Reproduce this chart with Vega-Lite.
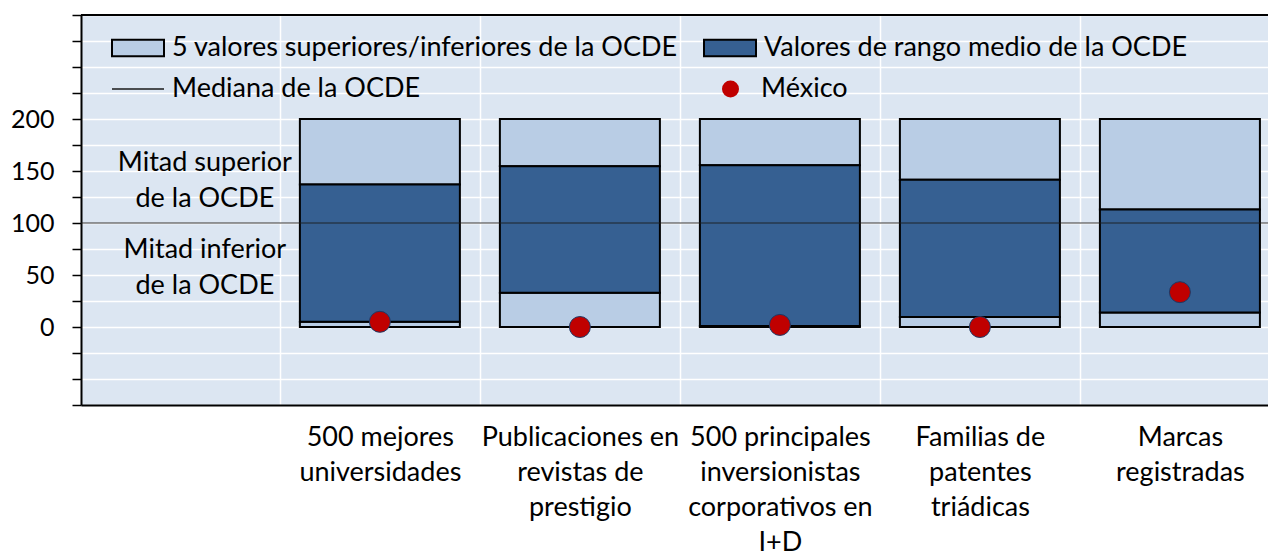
{
  "$schema": "https://vega.github.io/schema/vega-lite/v6.json",
  "width": 1187,
  "height": 390,
  "autosize": {"type": "none"},
  "padding": {"left": 81, "top": 15, "right": 0, "bottom": 149},
  "background": "white",
  "config": {
    "view": {"fill": "#DCE6F2", "stroke": null},
    "font": "Lato",
    "legend": {"labelFont": "Lato", "labelFontSize": 27, "labelColor": "black", "labelLimit": 1000, "padding": 0, "title": null}
  },
  "datasets": {
    "barras": [
      {"indicador": "500 mejores universidades", "parte": "5 valores superiores/inferiores de la OCDE", "desde": 0, "hasta": 5},
      {"indicador": "500 mejores universidades", "parte": "5 valores superiores/inferiores de la OCDE", "desde": 137, "hasta": 200},
      {"indicador": "500 mejores universidades", "parte": "Valores de rango medio de la OCDE", "desde": 5, "hasta": 137},
      {"indicador": "Publicaciones en revistas de prestigio", "parte": "5 valores superiores/inferiores de la OCDE", "desde": 0, "hasta": 33},
      {"indicador": "Publicaciones en revistas de prestigio", "parte": "5 valores superiores/inferiores de la OCDE", "desde": 154.5, "hasta": 200},
      {"indicador": "Publicaciones en revistas de prestigio", "parte": "Valores de rango medio de la OCDE", "desde": 33, "hasta": 154.5},
      {"indicador": "500 principales inversionistas corporativos en I+D", "parte": "5 valores superiores/inferiores de la OCDE", "desde": 0, "hasta": 1},
      {"indicador": "500 principales inversionistas corporativos en I+D", "parte": "5 valores superiores/inferiores de la OCDE", "desde": 155.5, "hasta": 200},
      {"indicador": "500 principales inversionistas corporativos en I+D", "parte": "Valores de rango medio de la OCDE", "desde": 1, "hasta": 155.5},
      {"indicador": "Familias de patentes triádicas", "parte": "5 valores superiores/inferiores de la OCDE", "desde": 0, "hasta": 9.5},
      {"indicador": "Familias de patentes triádicas", "parte": "5 valores superiores/inferiores de la OCDE", "desde": 141.5, "hasta": 200},
      {"indicador": "Familias de patentes triádicas", "parte": "Valores de rango medio de la OCDE", "desde": 9.5, "hasta": 141.5},
      {"indicador": "Marcas registradas", "parte": "5 valores superiores/inferiores de la OCDE", "desde": 0, "hasta": 14},
      {"indicador": "Marcas registradas", "parte": "5 valores superiores/inferiores de la OCDE", "desde": 113, "hasta": 200},
      {"indicador": "Marcas registradas", "parte": "Valores de rango medio de la OCDE", "desde": 14, "hasta": 113}
    ],
    "mexico": [
      {"indicador": "500 mejores universidades", "pais": "México", "valor": 5},
      {"indicador": "Publicaciones en revistas de prestigio", "pais": "México", "valor": 0},
      {"indicador": "500 principales inversionistas corporativos en I+D", "pais": "México", "valor": 2},
      {"indicador": "Familias de patentes triádicas", "pais": "México", "valor": 0},
      {"indicador": "Marcas registradas", "pais": "México", "valor": 33.5}
    ],
    "mediana": [
      {"serie": "Mediana de la OCDE", "valor": 100}
    ],
    "notas": [
      {"indicador": " ", "texto": "Mitad superior\nde la OCDE", "nivel": 158},
      {"indicador": " ", "texto": "Mitad inferior\nde la OCDE", "nivel": 74}
    ],
    "borde": [
      {"valor": 300}
    ]
  },
  "layer": [
    {
      "data": {"name": "barras"},
      "mark": {"type": "bar", "stroke": "black", "strokeWidth": 2, "opacity": 1},
      "encoding": {
        "x": {
          "field": "indicador",
          "type": "nominal",
          "sort": null,
          "scale": {
            "domain": [" ", "500 mejores universidades", "Publicaciones en revistas de prestigio", "500 principales inversionistas corporativos en I+D", "Familias de patentes triádicas", "Marcas registradas"],
            "paddingInner": 0.2,
            "paddingOuter": 0.0674,
            "align": 0.7
          },
          "axis": {
            "title": null,
            "orient": "bottom",
            "ticks": false,
            "domain": true,
            "domainColor": "black",
            "domainWidth": 2,
            "grid": true,
            "gridColor": "white",
            "gridWidth": 1.5,
            "bandPosition": 0,
            "tickOffset": -20,
            "labelOffset": 20,
            "labelAngle": 0,
            "labelPadding": 19,
            "labelFont": "Lato",
            "labelFontSize": 27,
            "labelColor": "black",
            "labelLineHeight": 35,
            "labelLimit": 500,
            "labelOverlap": false,
            "labelExpr": "datum.label == '500 mejores universidades' ? ['500 mejores','universidades'] : datum.label == 'Publicaciones en revistas de prestigio' ? ['Publicaciones en','revistas de','prestigio'] : datum.label == '500 principales inversionistas corporativos en I+D' ? ['500 principales','inversionistas','corporativos en','I+D'] : datum.label == 'Familias de patentes triádicas' ? ['Familias de','patentes','triádicas'] : datum.label == 'Marcas registradas' ? ['Marcas','registradas'] : ''"
          }
        },
        "y": {
          "field": "desde",
          "type": "quantitative",
          "scale": {"domain": [-75, 300], "nice": false, "zero": false},
          "axis": {
            "title": null,
            "grid": true,
            "tickCount": 40,
            "values": [-75, -50, -25, 0, 25, 50, 75, 100, 125, 150, 175, 200, 225, 250, 275, 300],
            "labelExpr": "indexof([0, 50, 100, 150, 200], datum.value) >= 0 ? datum.label : ''",
            "labelOverlap": false,
            "tickSize": 9,
            "tickColor": "black",
            "tickWidth": 1.5,
            "domainColor": "black",
            "domainWidth": 2,
            "gridColor": "white",
            "gridWidth": 1.5,
            "labelFont": "Lato",
            "labelFontSize": 25,
            "labelColor": "black",
            "labelPadding": 18
          }
        },
        "y2": {"field": "hasta"},
        "fill": {
          "field": "parte",
          "type": "nominal",
          "scale": {
            "domain": ["5 valores superiores/inferiores de la OCDE", "Valores de rango medio de la OCDE"],
            "range": ["#B9CDE5", "#366092"]
          },
          "legend": {
            "orient": "none",
            "legendX": 30,
            "legendY": 6,
            "columns": 2,
            "columnPadding": 22,
            "labelOffset": 7,
            "symbolType": "M-1,-0.315H1V0.315H-1Z",
            "symbolSize": 2704,
            "symbolStrokeColor": "black",
            "symbolStrokeWidth": 2,
            "symbolOpacity": 1
          }
        }
      }
    },
    {
      "data": {"name": "mediana"},
      "mark": {"type": "rule", "strokeWidth": 1.5, "opacity": 0.6},
      "encoding": {
        "y": {"field": "valor", "type": "quantitative"},
        "stroke": {
          "field": "serie",
          "type": "nominal",
          "scale": {"domain": ["Mediana de la OCDE"], "range": ["#1a1a1a"]},
          "legend": {
            "orient": "none",
            "legendX": 30,
            "legendY": 47,
            "labelOffset": 7,
            "symbolType": "stroke",
            "symbolSize": 2704,
            "symbolStrokeWidth": 1.5,
            "symbolOpacity": 1
          }
        }
      }
    },
    {
      "data": {"name": "mexico"},
      "mark": {"type": "point", "filled": true, "size": 441, "fill": "#C00000", "stroke": "#1F3864", "strokeWidth": 1, "opacity": 1},
      "encoding": {
        "x": {"field": "indicador", "type": "nominal"},
        "y": {"field": "valor", "type": "quantitative"},
        "shape": {
          "field": "pais",
          "type": "nominal",
          "scale": {"domain": ["México"], "range": ["circle"]},
          "legend": {
            "orient": "none",
            "legendX": 636,
            "legendY": 60.5,
            "labelOffset": 17,
            "symbolSize": 289,
            "symbolFillColor": "#C00000",
            "symbolStrokeColor": "#1F3864",
            "symbolStrokeWidth": 1,
            "symbolOpacity": 1
          }
        }
      }
    },
    {
      "data": {"name": "notas"},
      "mark": {"type": "text", "font": "Lato", "fontSize": 27, "lineBreak": "\n", "lineHeight": 36, "baseline": "middle", "align": "center", "dx": 25, "color": "black"},
      "encoding": {
        "x": {"field": "indicador", "type": "nominal"},
        "y": {"field": "nivel", "type": "quantitative"},
        "text": {"field": "texto"}
      }
    },
    {
      "data": {"name": "borde"},
      "mark": {"type": "rule", "color": "black", "strokeWidth": 2},
      "encoding": {
        "y": {"field": "valor", "type": "quantitative"}
      }
    }
  ]
}
